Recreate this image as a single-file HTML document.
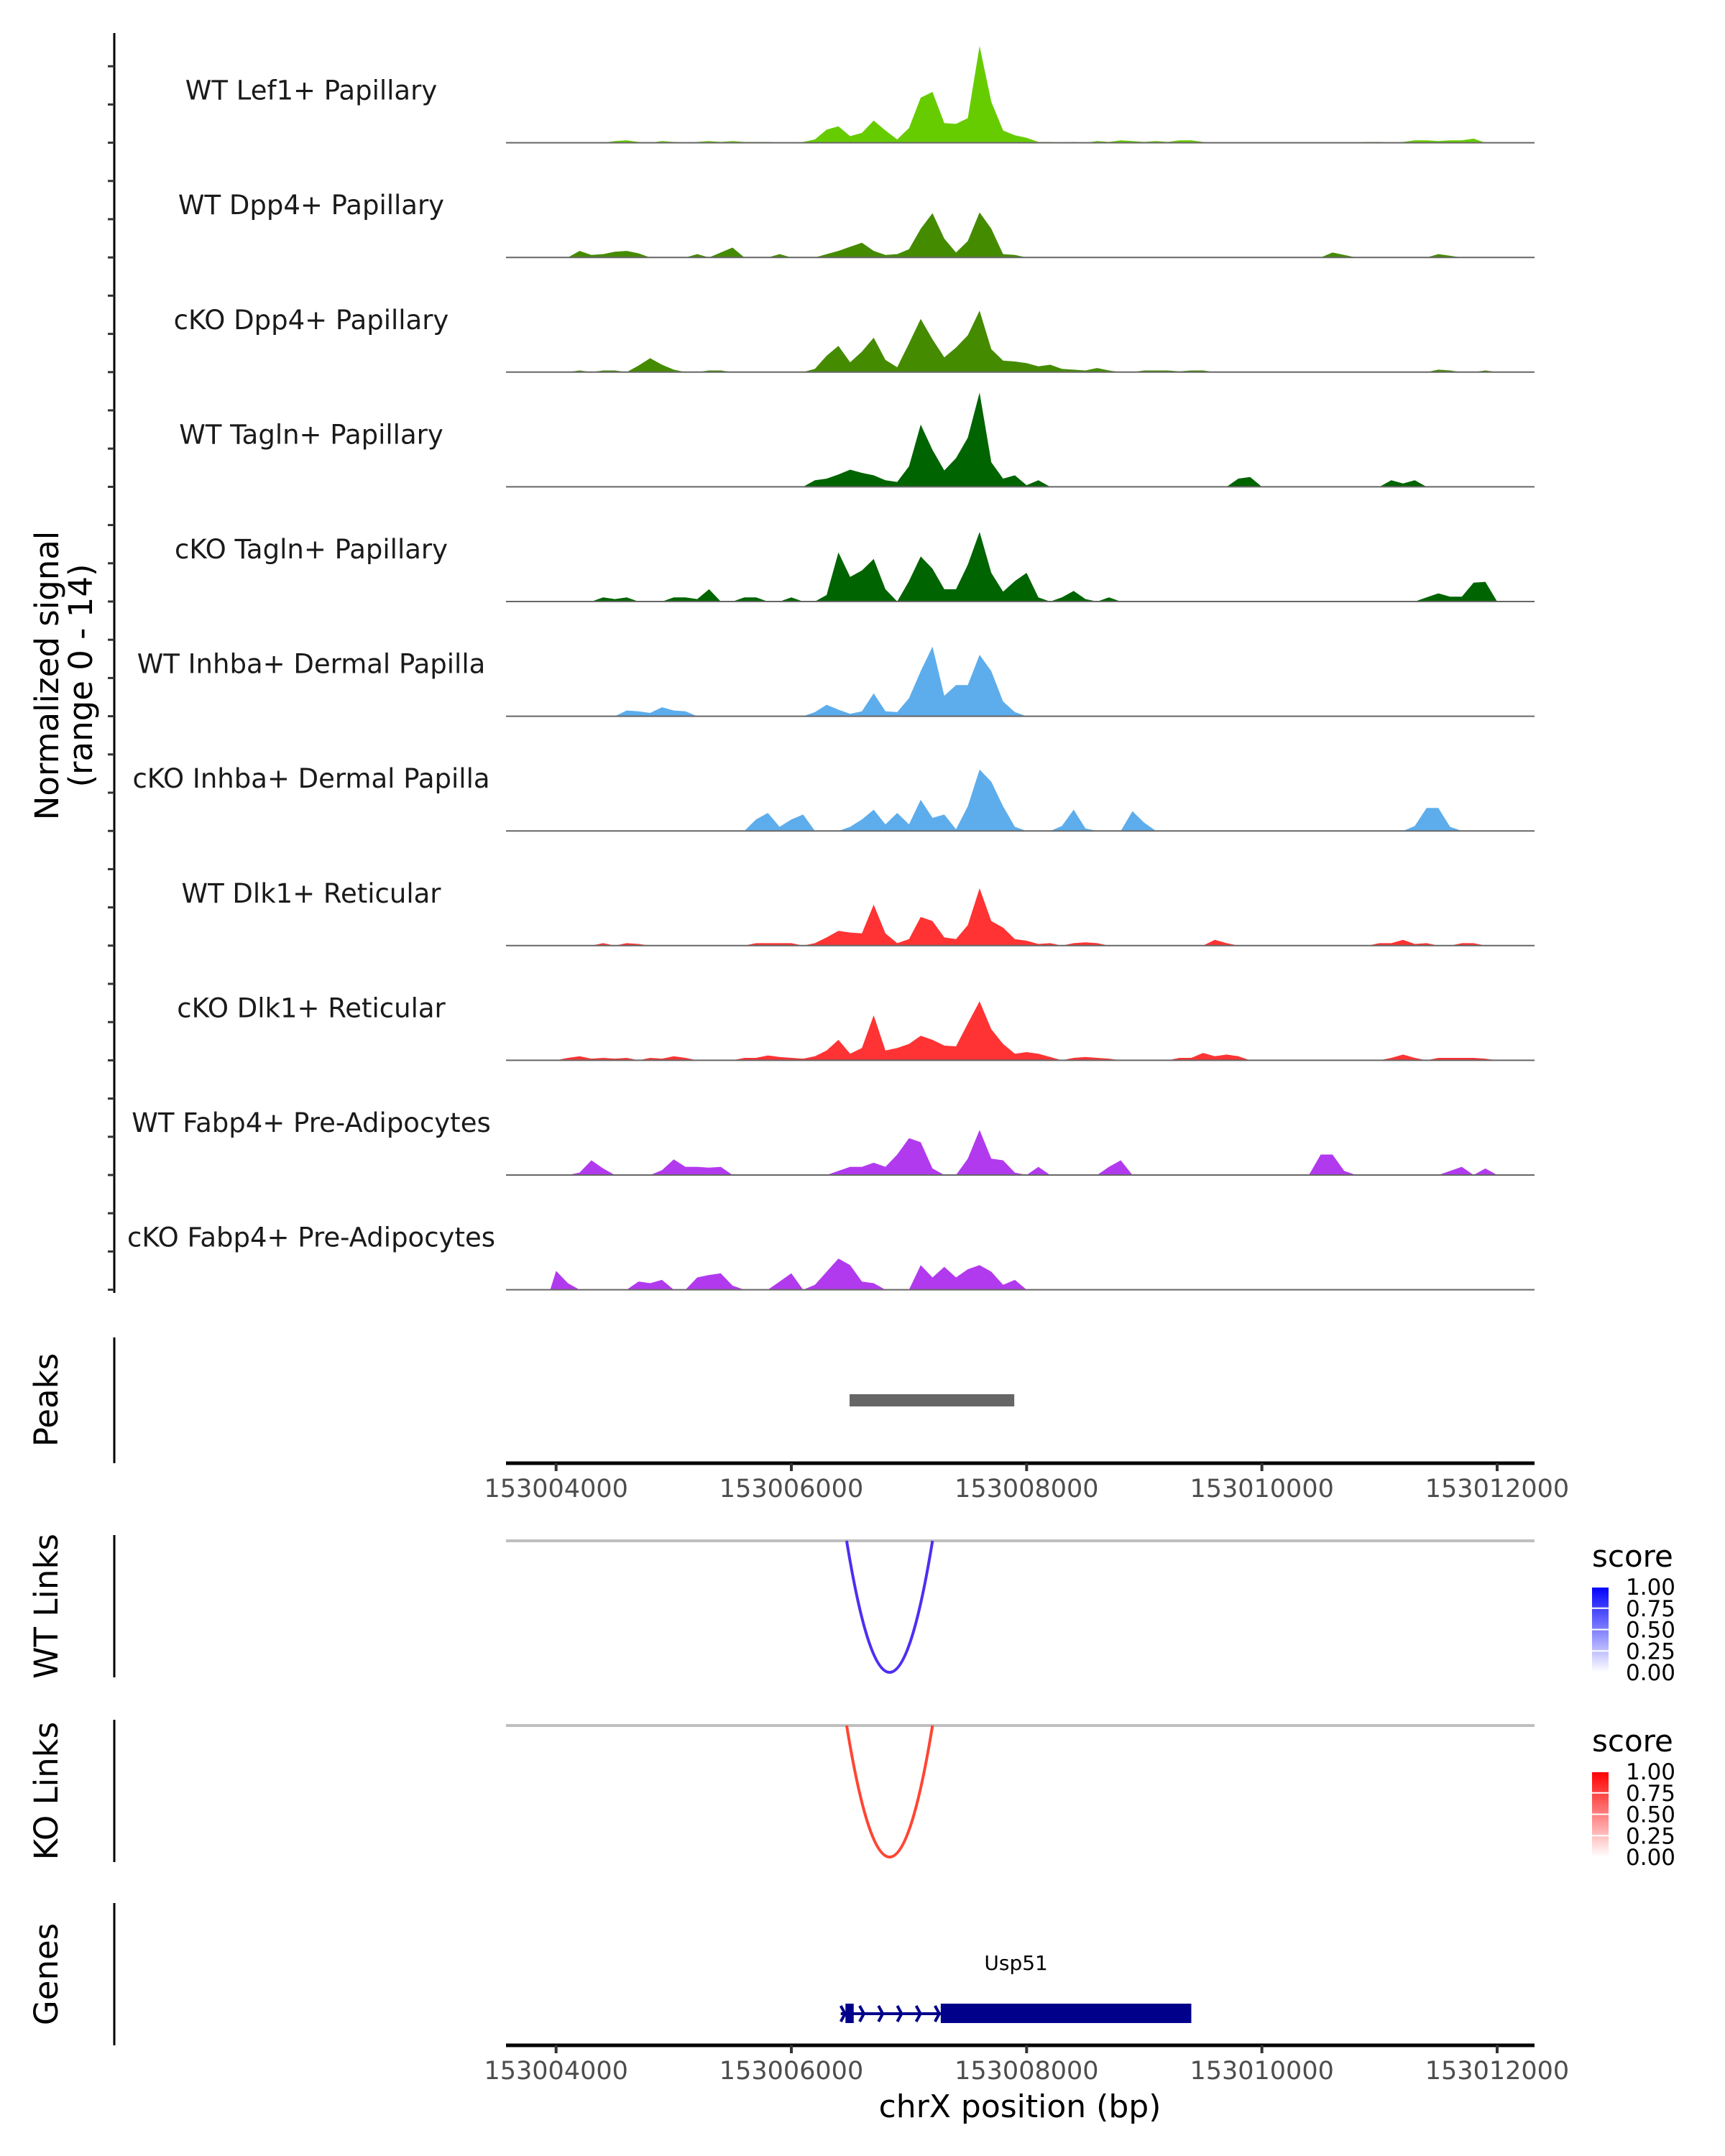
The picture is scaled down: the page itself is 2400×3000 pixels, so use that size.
<!DOCTYPE html>
<html><head><meta charset="utf-8">
<style>
html,body{margin:0;padding:0;background:#fff;}
svg{display:block;font-family:"DejaVu Sans","Liberation Sans",sans-serif;}
</style></head>
<body>
<svg id="chart" width="2400" height="3000" viewBox="0 0 2400 3000" xmlns="http://www.w3.org/2000/svg">
<defs>
<linearGradient id="gBlue" x1="0" y1="1" x2="0" y2="0"><stop offset="0" stop-color="#ffffff"/><stop offset="1" stop-color="#0000ff"/></linearGradient>
<linearGradient id="gRed" x1="0" y1="1" x2="0" y2="0"><stop offset="0" stop-color="#ffffff"/><stop offset="1" stop-color="#ff0000"/></linearGradient>
</defs>
<g id="tracks"></g>
<g id="lower"></g>
</svg>
<script>
const binStart = 153004000;
const binWidth = 100;
const yMax = 14;
const trackNames = ["WT Lef1+ Papillary","WT Dpp4+ Papillary","cKO Dpp4+ Papillary","WT Tagln+ Papillary","cKO Tagln+ Papillary","WT Inhba+ Dermal Papilla","cKO Inhba+ Dermal Papilla","WT Dlk1+ Reticular","cKO Dlk1+ Reticular","WT Fabp4+ Pre-Adipocytes","cKO Fabp4+ Pre-Adipocytes"];
const trackColors = ["#66cc00","#458b00","#458b00","#006400","#006400","#5dadec","#5dadec","#ff3333","#ff3333","#b23aee","#b23aee"];
const sigLef1WT = [0,0,0,0,0,.2,.3,.1,0,.2,.1,0,.1,.2,.1,.2,.1,.1,.1,0,0,.1,.4,1.6,2.0,.8,1.2,2.7,1.5,.4,1.8,5.5,6.2,2.4,2.3,3.0,11.8,5.0,1.5,.9,.6,.1,.1,0,.1,0,.2,.1,.3,.2,.1,.2,.1,.3,.3,.1,0,0,0,0,0,0,0,0,0,0,0,0,0,.1,.1,0,.1,.3,.3,.2,.3,.3,.5,0];
const sigDpp4WT = [0,0,.8,.3,.4,.7,.8,.5,0,0,0,0,.4,0,.6,1.2,0,0,0,.4,0,0,0,.4,.8,1.3,1.8,.8,.3,.4,1.0,3.5,5.4,2.3,.6,2.0,5.5,3.5,.4,.3,0,0,0,0,0,0,0,0,0,0,0,0,0,0,0,0,0,0,0,0,0,0,0,0,0,0,.6,.3,0,0,0,0,0,0,0,.4,.2,0,0,0];
const sigDpp4KO = [0,0,.2,0,.2,.2,0,.8,1.7,.9,.3,0,0,.2,.2,0,0,0,0,0,0,0,.4,2.0,3.2,1.2,2.5,4.2,1.5,.6,3.5,6.5,4.0,1.8,3.0,4.5,7.5,2.8,1.4,1.3,1.1,.7,.9,.4,.3,.2,.5,.2,0,0,.2,.2,.2,.1,.2,.2,0,0,0,0,0,0,0,0,0,0,0,0,0,0,0,0,0,0,0,.3,.2,0,0,.2];
const sigTaglnWT = [0,0,0,0,0,0,0,0,0,0,0,0,0,0,0,0,0,0,0,0,0,0,.8,1.0,1.5,2.1,1.7,1.4,.8,.6,2.5,7.6,4.5,2.0,3.5,6.0,11.5,3.0,1.0,1.4,.2,.8,0,0,0,0,0,0,0,0,0,0,0,0,0,0,0,0,1.0,1.2,0,0,0,0,0,0,0,0,0,0,0,.8,.4,.8,0,0,0,0,0,0];
const sigTaglnKO = [0,0,0,0,.5,.3,.5,0,0,0,.5,.5,.3,1.5,0,0,.5,.5,0,0,.5,0,0,.8,6.0,3.0,3.8,5.2,1.5,0,2.5,5.5,4.0,1.5,1.5,4.5,8.5,3.5,1.2,2.5,3.5,.5,0,.5,1.3,.3,0,.5,0,0,0,0,0,0,0,0,0,0,0,0,0,0,0,0,0,0,0,0,0,0,0,0,0,0,.5,1.0,.6,.6,2.3,2.4];
const sigInhbaWT = [0,0,0,0,0,0,.7,.6,.4,1.1,.7,.6,0,0,0,0,0,0,0,0,0,0,.5,1.4,.8,.3,.6,2.8,.6,.5,2.2,5.5,8.5,2.5,3.8,3.8,7.5,5.5,1.8,.5,0,0,0,0,0,0,0,0,0,0,0,0,0,0,0,0,0,0,0,0,0,0,0,0,0,0,0,0,0,0,0,0,0,0,0,0,0,0,0,0];
const sigInhbaKO = [0,0,0,0,0,0,0,0,0,0,0,0,0,0,0,0,0,1.4,2.2,.5,1.4,2.0,0,0,0,.5,1.4,2.6,.8,2.2,.8,3.8,1.6,2.0,.2,3.0,7.5,6.0,3.0,.5,0,0,0,.6,2.6,.3,0,0,0,2.4,1.0,0,0,0,0,0,0,0,0,0,0,0,0,0,0,0,0,0,0,0,0,0,0,.6,2.8,2.8,.5,0,0,0];
const sigDlk1WT = [0,0,0,0,.3,0,.3,.2,0,0,0,0,0,0,0,0,0,.3,.3,.3,.3,0,.3,1.0,1.8,1.6,1.5,5.0,1.5,.3,.8,3.5,3.0,1.0,.8,2.5,7.0,3.0,2.2,.8,.6,.2,.3,0,.3,.4,.3,0,0,0,0,0,0,0,0,0,.7,.3,0,0,0,0,0,0,0,0,0,0,0,0,.3,.3,.7,.2,.3,0,0,.3,.3,0];
const sigDlk1KO = [0,.3,.5,.2,.3,.2,.3,0,.3,.2,.5,.3,0,0,0,0,.3,.3,.6,.4,.3,.2,.5,1.2,2.5,.8,1.5,5.5,1.2,1.5,2.0,3.0,2.5,1.8,1.7,4.5,7.2,3.8,2.0,.8,1.0,.8,.4,0,.3,.4,.3,.2,0,0,0,0,0,.3,.3,.9,.5,.7,.5,0,0,0,0,0,0,0,0,0,0,0,0,.3,.7,.3,0,.3,.3,.3,.3,.2];
const sigFabp4WT = [0,0,.3,1.8,.8,0,0,0,0,.6,1.9,1.0,1.0,.9,1.0,0,0,0,0,0,0,0,0,0,.5,1.0,1.0,1.5,1.0,2.5,4.5,4.0,.8,0,0,2.0,5.5,2.0,1.8,.3,0,1.0,0,0,0,0,0,1.0,1.8,0,0,0,0,0,0,0,0,0,0,0,0,0,0,0,0,2.5,2.5,.5,0,0,0,0,0,0,0,0,.5,1.0,0,.8];
const sigFabp4KO = [2.3,.8,0,0,0,0,0,1.0,.8,1.2,0,0,1.5,1.8,2.0,.5,0,0,0,1.0,2.0,0,.6,2.2,3.8,3.0,1.0,.8,0,0,0,3.0,1.5,2.8,1.5,2.5,3.0,2.2,.6,1.2,0,0,0,0,0,0,0,0,0,0,0,0,0,0,0,0,0,0,0,0,0,0,0,0,0,0,0,0,0,0,0,0,0,0,0,0,0,0,0,0];
const xTickVals = [153004000,153006000,153008000,153010000,153012000];
const peakStarts = [153006495];
const peakEnds = [153007895];
const wtLinkStarts = [153006470];
const wtLinkEnds = [153007200];
const wtLinkScores = [0.82];
const koLinkStarts = [153006470];
const koLinkEnds = [153007200];
const koLinkScores = [0.82];
const legendTicks = ["0.00","0.25","0.50","0.75","1.00"];
const geneName = ["Usp51"];
const geneStart = [153006420];
const geneEnd = [153009400];
const geneThickStart = [153007270];
const exonSmallStart = [153006460];
const exonSmallEnd = [153006530];

const signals = [sigLef1WT,sigDpp4WT,sigDpp4KO,sigTaglnWT,sigTaglnKO,sigInhbaWT,sigInhbaKO,sigDlk1WT,sigDlk1KO,sigFabp4WT,sigFabp4KO];
const NS = "http://www.w3.org/2000/svg";
const X0 = 773.7, PXBP = 0.16366, PLOT_L = 704, PLOT_R = 2135;
const TRACK_H = 159.6, BASE0 = 198.6;
function xs(bp){ return X0 + (bp - 153004000) * PXBP; }
function base(k){ return BASE0 + TRACK_H * k; }
function ys(v,k){ return base(k) - v / yMax * TRACK_H; }
function mk(tag, attrs, parent){ const e = document.createElementNS(NS, tag); for (const a in attrs) e.setAttribute(a, attrs[a]); parent.appendChild(e); return e; }

const tracks = document.getElementById('tracks');
const lower = document.getElementById('lower');

let ax = mk('line',{x1:159,y1:46,x2:159,y2:1799,stroke:'#000','stroke-width':3},tracks);


for (let k=0;k<signals.length;k++){
  for (const tv of [0, yMax/3, 2*yMax/3]){
    const t = mk('line',{x1:150,y1:ys(tv,k),x2:159,y2:ys(tv,k),stroke:'#333','stroke-width':3},tracks);
    
    
  }
}
let yt = mk('text',{x:0,y:0,'font-size':45,'text-anchor':'middle',fill:'#000',transform:'translate(81,940) rotate(-90)'},tracks);


yt.textContent = 'Normalized signal';
let yt2 = mk('text',{x:0,y:0,'font-size':45,'text-anchor':'middle',fill:'#000',transform:'translate(128,940) rotate(-90)'},tracks);


yt2.textContent = '(range 0 - 14)';

for (let k=0;k<signals.length;k++){
  const vals = signals[k];
  let d = 'M' + xs(binStart - binWidth/2).toFixed(1) + ' ' + base(k).toFixed(1);
  for (let i=0;i<vals.length;i++){
    const bp = binStart + i*binWidth;
    d += ' L' + xs(bp).toFixed(1) + ' ' + ys(vals[i],k).toFixed(1);
  }
  d += ' L' + xs(binStart + vals.length*binWidth).toFixed(1) + ' ' + base(k).toFixed(1) + ' Z';
  const p = mk('path',{d:d,fill:trackColors[k],stroke:'none'},tracks);
  
  
  const bl = mk('line',{x1:PLOT_L,y1:base(k),x2:PLOT_R,y2:base(k),stroke:'#666','stroke-width':2},tracks);
  
  
  const lb = mk('text',{x:433,y:base(k)-60,'font-size':37,'text-anchor':'middle',fill:'#1a1a1a'},tracks);
  
  
  lb.textContent = trackNames[k];
}

function sideLabel(txt, cy, name){
  const t = mk('text',{x:0,y:0,'font-size':45,'text-anchor':'middle',fill:'#000',transform:'translate(80,'+cy+') rotate(-90)'},lower);
  
  
  t.textContent = txt;
}
function leftAxis(y1,y2,name){
  const l = mk('line',{x1:159,y1:y1,x2:159,y2:y2,stroke:'#000','stroke-width':3},lower);
  
  
}
function xAxis(y, name){
  const l = mk('line',{x1:PLOT_L,y1:y,x2:PLOT_R,y2:y,stroke:'#000','stroke-width':5},lower);
  
  
  for (const tv of xTickVals){
    const t = mk('line',{x1:xs(tv),y1:y,x2:xs(tv),y2:y+11,stroke:'#333','stroke-width':4},lower);
    
    
    const tl = mk('text',{x:xs(tv),y:y+47,'font-size':35,'text-anchor':'middle',fill:'#4d4d4d'},lower);
    
    
    tl.textContent = String(tv);
  }
}

leftAxis(1861,2036,'peaks-axis');
sideLabel('Peaks',1948,'peaks-label');
for (let i=0;i<peakStarts.length;i++){
  const r = mk('rect',{x:xs(peakStarts[i]),y:1940,width:xs(peakEnds[i])-xs(peakStarts[i]),height:17,fill:'#666666'},lower);
  
  
}
xAxis(2036,'peaks-x-axis');

function linkPanel(top, bottom, starts, ends, scores, color, grad, label, lname){
  leftAxis(top, bottom, lname+'-axis');
  sideLabel(label, (top+bottom)/2, lname+'-label');
  const gl = mk('line',{x1:PLOT_L,y1:top+8,x2:PLOT_R,y2:top+8,stroke:'#bfbfbf','stroke-width':4},lower);
  
  
  const y0 = top+8, depth = bottom - 7 - y0;
  for (let i=0;i<starts.length;i++){
    const a = xs(starts[i]), b = xs(ends[i]);
    const c = (a+b)/2, yb = y0 + depth*scores[i]/0.82;
    const arc = mk('path',{d:'M'+a+' '+y0+' Q'+c+' '+(2*yb-y0)+' '+b+' '+y0,fill:'none',stroke:color,'stroke-width':4},lower);
    
    
  }
  const lt = mk('text',{x:2215,y:top+44,'font-size':42,fill:'#000'},lower);
  
  
  lt.textContent = 'score';
  const cbTop = top+72, cbBot = top+191;
  const cb = mk('rect',{x:2215,y:cbTop,width:23,height:cbBot-cbTop,fill:'url(#'+grad+')'},lower);
  
  
  for (let j=0;j<legendTicks.length;j++){
    const yy = cbBot - (cbBot-cbTop)*j/(legendTicks.length-1);
    const tk = mk('line',{x1:2215,y1:yy,x2:2238,y2:yy,stroke:'#fff','stroke-width':2},lower);
    
    
    const tt = mk('text',{x:2262,y:yy+11,'font-size':31,fill:'#000'},lower);
    
    
    tt.textContent = legendTicks[j];
  }
}
linkPanel(2136,2334,wtLinkStarts,wtLinkEnds,wtLinkScores,'#4d2ff2','gBlue','WT Links','wt-links');
linkPanel(2393,2591,koLinkStarts,koLinkEnds,koLinkScores,'#ff4533','gRed','KO Links','ko-links');

leftAxis(2648,2846,'genes-axis');
sideLabel('Genes',2747,'genes-label');
for (let i=0;i<geneName.length;i++){
  const gy = 2802;
  const ln = mk('line',{x1:xs(geneStart[i]),y1:gy,x2:xs(geneThickStart[i]),y2:gy,stroke:'#00008b','stroke-width':4},lower);
  
  
  const a0 = xs(geneStart[i]), a1 = xs(geneThickStart[i]);
  for (let j=0;j<6;j++){
    const ax2 = a0 + 6 + (a1-a0-8)*j/5;
    const ar = mk('path',{d:'M'+(ax2-6)+' '+(gy-11)+' L'+ax2+' '+gy+' L'+(ax2-6)+' '+(gy+11),fill:'none',stroke:'#00008b','stroke-width':4},lower);
    
    
  }
  const ex = mk('rect',{x:xs(exonSmallStart[i]),y:2788,width:xs(exonSmallEnd[i])-xs(exonSmallStart[i]),height:27,fill:'#00008b'},lower);
  
  
  const th = mk('rect',{x:xs(geneThickStart[i]),y:2788,width:xs(geneEnd[i])-xs(geneThickStart[i]),height:27,fill:'#00008b'},lower);
  
  
  const gt = mk('text',{x:(xs(geneStart[i])+xs(geneEnd[i]))/2,y:2741,'font-size':28,'text-anchor':'middle',fill:'#000'},lower);
  
  
  gt.textContent = geneName[i];
}
xAxis(2846,'genes-x-axis');
const xt = mk('text',{x:1419,y:2946,'font-size':44,'text-anchor':'middle',fill:'#000'},lower);


xt.textContent = 'chrX position (bp)';
</script>
</body></html>
